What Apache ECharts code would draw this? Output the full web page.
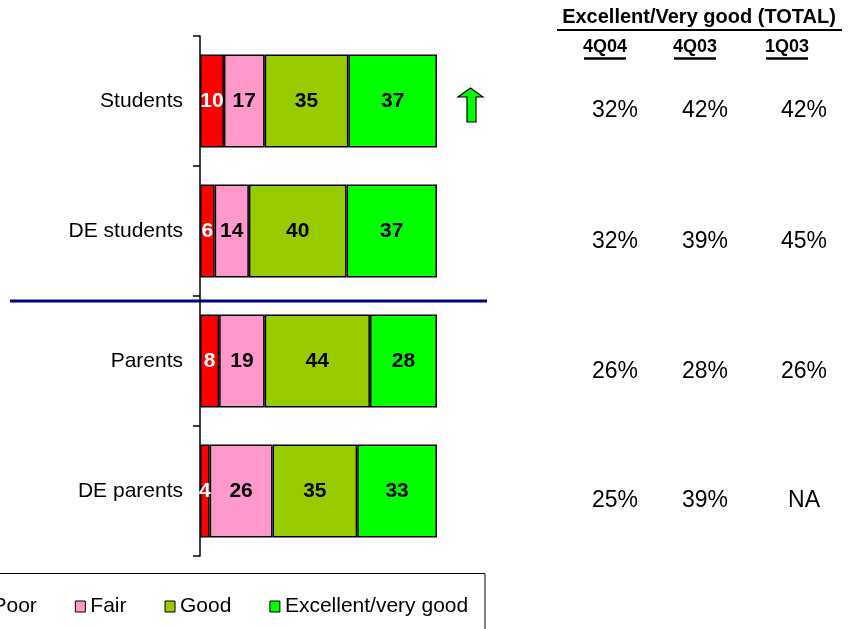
<!DOCTYPE html>
<html>
<head>
<meta charset="utf-8">
<script src="https://cdn.jsdelivr.net/npm/echarts@6/dist/echarts.min.js"></script>
<style>html,body{margin:0;padding:0;background:#fff}#c{width:848px;height:629px}</style>
</head>
<body>
<div id="c"></div>
<script>
// ---- data ----
const categories = ['Students', 'DE students', 'Parents', 'DE parents'];
const poor      = [10, 6, 8, 4];
const fair      = [17, 14, 19, 26];
const good      = [35, 40, 44, 35];
const excellent = [37, 37, 28, 33];
const seriesNames = ['Poor', 'Fair', 'Good', 'Excellent/very good'];
const tableTitle = 'Excellent/Very good (TOTAL)';
const tableHeaders = ['4Q04', '4Q03', '1Q03'];
const col4Q04 = ['32%', '32%', '26%', '25%'];
const col4Q03 = ['42%', '39%', '28%', '39%'];
const col1Q03 = ['42%', '45%', '26%', 'NA'];

// ---- build ----
const FONT = '"Liberation Sans", Arial, sans-serif';
const raw = [poor, fair, good, excellent];
const totals = categories.map((_, i) => raw.reduce((s, a) => s + a[i], 0));
const colors = ['#FF0000', '#FF99CC', '#99CC00', '#00FF00'];

const series = raw.map((arr, k) => ({
  name: seriesNames[k],
  type: 'bar',
  stack: 'all',
  barWidth: 93,
  data: arr.map((v, i) => v / totals[i] * 100),
  itemStyle: { color: colors[k], borderColor: '#000', borderWidth: 1.5 },
  label: {
    show: true, position: 'inside',
    formatter: p => String(arr[p.dataIndex]),
    color: k === 0 ? '#fff' : '#000',
    fontFamily: FONT, fontWeight: 'bold', fontSize: 21
  },
  emphasis: { disabled: true },
  animation: false
}));

// table positions
const colX = [615, 705, 804];
const headX = [605, 695, 787];
const rowY = [111, 242, 372, 501];
const cols = [col4Q04, col4Q03, col1Q03];
const graphics = [];
graphics.push({ type: 'text',
  style: { text: tableTitle, x: 699, y: 17, align: 'center', verticalAlign: 'middle',
    font: 'bold 20px ' + FONT, fill: '#000' } });
graphics.push({ type: 'line', shape: { x1: 557, y1: 30, x2: 842, y2: 30 }, style: { stroke: '#000', lineWidth: 2 } });
tableHeaders.forEach((h, j) => {
  graphics.push({ type: 'text', style: { text: h, x: headX[j], y: 47, align: 'center', verticalAlign: 'middle',
    font: 'bold 18px ' + FONT, fill: '#000' } });
  graphics.push({ type: 'line', shape: { x1: headX[j] - 21, y1: 58.5, x2: headX[j] + 21, y2: 58.5 },
    style: { stroke: '#000', lineWidth: 2.5 } });
});
cols.forEach((col, j) => col.forEach((t, i) => {
  graphics.push({ type: 'text', style: { text: t, x: colX[j], y: rowY[i], align: 'center', verticalAlign: 'middle',
    font: '23px ' + FONT, fill: '#000' } });
}));
// separator line
graphics.push({ type: 'line', shape: { x1: 10, y1: 301, x2: 487, y2: 301 }, style: { stroke: '#000080', lineWidth: 3 } });
// up arrow
graphics.push({ type: 'polygon', shape: { points: [[470.5, 88], [483, 97], [476, 97], [476, 122], [467, 122], [467, 97], [458, 97]] },
  style: { fill: '#00FF00', stroke: '#000', lineWidth: 1.2 } });
// legend box
graphics.push({ type: 'rect', shape: { x: -5, y: 573.5, width: 490, height: 80 },
  style: { fill: 'none', stroke: '#000', lineWidth: 1 }, z: -1 });

const chart = echarts.init(document.getElementById('c'), null, { renderer: 'canvas' });
chart.setOption({
  animation: false,
  backgroundColor: '#fff',
  grid: { left: 200, top: 36, width: 237, height: 520, containLabel: false },
  xAxis: { type: 'value', min: 0, max: 100, show: false },
  yAxis: {
    type: 'category', data: categories, inverse: true,
    axisLine: { show: true, lineStyle: { color: '#000', width: 1.5 } },
    axisTick: { show: true, inside: false, length: 7, lineStyle: { color: '#000', width: 1.5 } },
    axisLabel: { margin: 17, color: '#000', fontFamily: FONT, fontSize: 21 },
    splitLine: { show: false }
  },
  legend: {
    data: seriesNames, left: -28, top: 591,
    icon: 'rect', itemWidth: 10, itemHeight: 11, itemGap: 38,
    itemStyle: { borderColor: '#000', borderWidth: 1 },
    textStyle: { color: '#000', fontFamily: FONT, fontSize: 21 },
    selectedMode: false
  },
  series: series,
  graphic: graphics
});
</script>
</body>
</html>
